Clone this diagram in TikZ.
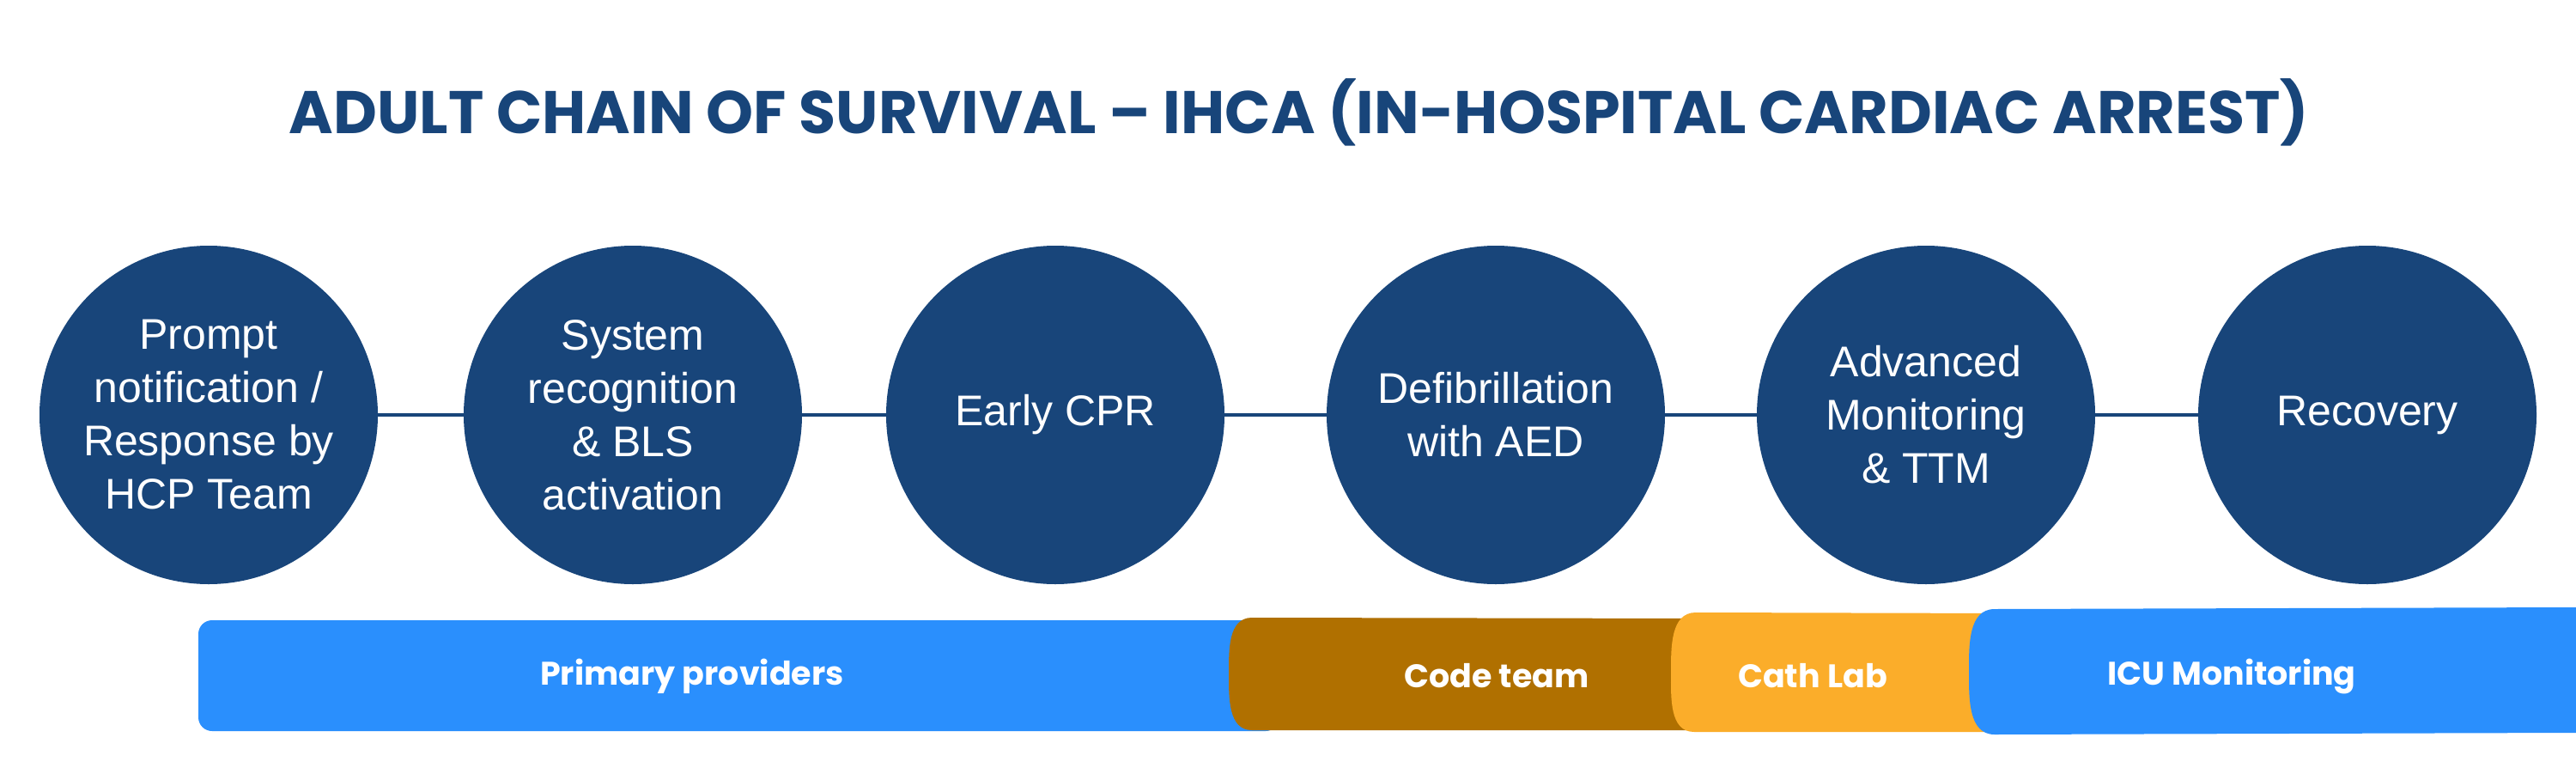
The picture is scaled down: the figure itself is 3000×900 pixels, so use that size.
\documentclass[tikz,border=0pt]{standalone}
\usepackage{fontspec}
\setmainfont{Liberation Sans}
\newfontfamily\popfont{Poppins}
\definecolor{navy}{HTML}{18457A}
\definecolor{bluebar}{HTML}{2A8FFD}
\definecolor{brownbar}{HTML}{B07000}
\definecolor{orangebar}{HTML}{FBAD2A}
\tikzset{
  stage/.style={circle, fill=navy, minimum size=394pt, inner sep=0pt},
  stagetext/.style={text=white, align=center, font=\fontsize{50}{62}\selectfont},
  link/.style={draw=navy, line width=4.5pt},
  barlabel/.style={text=white, font=\popfont\bfseries\fontsize{38}{46}\selectfont},
}
\begin{document}
\begin{tikzpicture}[x=1pt,y=-1pt]
\useasboundingbox (0,0) rectangle (3000,900);
\fill[white] (0,0) rectangle (3000,900);
% title
\node[anchor=base, text=navy, font=\popfont\bfseries\fontsize{70}{84}\selectfont] (title) at (1513,155) {ADULT CHAIN OF SURVIVAL – IHCA (IN-HOSPITAL CARDIAC ARREST)};
% stages
\node[stage] (c1) at (243,483) {};
\node[stage] (c2) at (737,483) {};
\node[stage] (c3) at (1229,483) {};
\node[stage] (c4) at (1742,483) {};
\node[stage] (c5) at (2243,483) {};
\node[stage] (c6) at (2757,483) {};
\draw[link] (c1) -- (c2);
\draw[link] (c2) -- (c3);
\draw[link] (c3) -- (c4);
\draw[link] (c4) -- (c5);
\draw[link] (c5) -- (c6);
\node[stagetext] (t1) at (c1) {Prompt\\notification /\\Response by\\HCP Team};
\node[stagetext] (t2) at (c2) {System\\recognition\\\& BLS\\activation};
\node[stagetext] (t3) at (c3) {Early CPR};
\node[stagetext] (t4) at (c4) {Defibrillation\\with AED};
\node[stagetext] (t5) at (c5) {Advanced\\Monitoring\\\& TTM};
\node[stagetext] (t6) at (c6) {Recovery};
% bars
\fill[bluebar, rounded corners=16pt] (231,722) rectangle (1490,851);
\fill[brownbar] (1995,720) -- (1458,719) to[out=180,in=90] (1431,785) to[out=270,in=180] (1458,850) -- (1995,850) -- cycle;
\fill[orangebar] (2345,714) -- (1975,713) to[out=180,in=90] (1946,783) to[out=270,in=180] (1973,852) -- (2345,852) -- cycle;
\fill[bluebar] (3000,707) -- (2323,709) to[out=180,in=90] (2293,782) to[out=270,in=180] (2323,855) -- (3000,853) -- cycle;
\node[barlabel] (b1) at (806,787) {Primary providers};
\node[barlabel] (b2) at (1743,787) {Code team};
\node[barlabel] (b3) at (2111,787) {Cath Lab};
\node[barlabel] (b4) at (2599,787) {ICU Monitoring};
\end{tikzpicture}
\end{document}
